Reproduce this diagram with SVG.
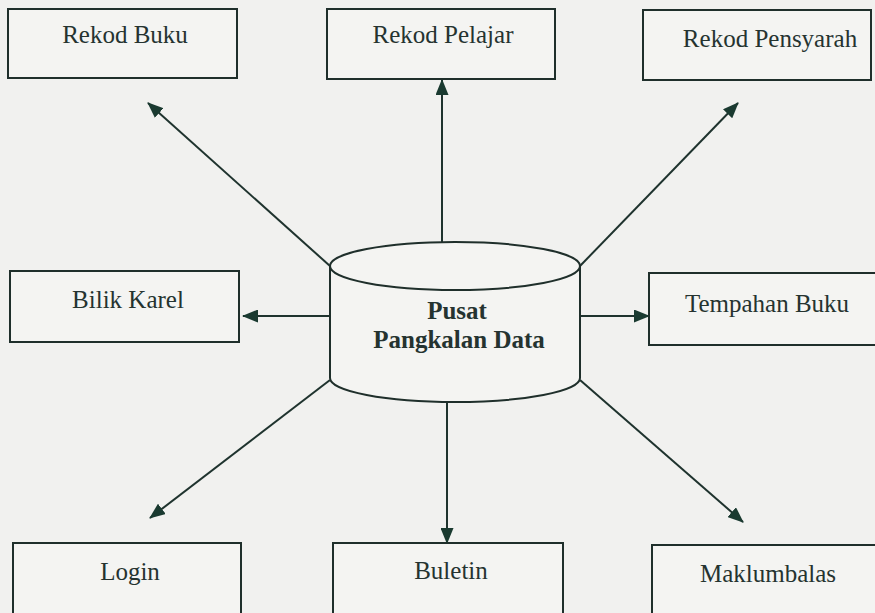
<svg xmlns="http://www.w3.org/2000/svg" width="875" height="613" viewBox="0 0 875 613">
<defs>
<style>
.box{fill:#f4f4f2;stroke:#1f2f2b;stroke-width:2}
.lbl{font-family:"Liberation Serif","Times New Roman",Times,"DejaVu Serif",serif;font-size:25px;fill:#253330;text-anchor:middle}
.bold{font-weight:bold}
.con{stroke:#1f332e;stroke-width:2;fill:none;marker-end:url(#ah)}
</style>
<marker id="ah" viewBox="0 0 16 13" refX="15" refY="6.5" markerWidth="16" markerHeight="13" markerUnits="userSpaceOnUse" orient="auto">
<path d="M0,0 L16,6.5 L0,13 z" fill="#1a3a30"/>
</marker>
</defs>
<rect width="875" height="613" fill="#f1f1ef"/>
<g id="connectors">
<line class="con" x1="330" y1="266" x2="148" y2="103"/>
<line class="con" x1="442" y1="242" x2="442" y2="80"/>
<line class="con" x1="580" y1="266" x2="738" y2="103"/>
<line class="con" x1="330" y1="316" x2="243" y2="316"/>
<line class="con" x1="580" y1="316" x2="649" y2="316"/>
<line class="con" x1="330" y1="380" x2="150" y2="518"/>
<line class="con" x1="447" y1="402" x2="447" y2="543"/>
<line class="con" x1="580" y1="380" x2="743" y2="522"/>
</g>
<g id="rekod-buku">
<rect class="box" x="8" y="9" width="229" height="69"/>
<text class="lbl" x="125" y="43" font-family="Liberation Serif, serif">Rekod Buku</text>
</g>
<g id="rekod-pelajar">
<rect class="box" x="327" y="9" width="228" height="70"/>
<text class="lbl" x="443" y="43" font-family="Liberation Serif, serif">Rekod Pelajar</text>
</g>
<g id="rekod-pensyarah">
<rect class="box" x="643" y="10" width="228" height="70"/>
<text class="lbl" x="770" y="47" font-family="Liberation Serif, serif">Rekod Pensyarah</text>
</g>
<g id="bilik-karel">
<rect class="box" x="10" y="271" width="229" height="71"/>
<text class="lbl" x="128" y="308" font-family="Liberation Serif, serif">Bilik Karel</text>
</g>
<g id="tempahan-buku">
<rect class="box" x="649" y="273" width="230" height="72"/>
<text class="lbl" x="767" y="312" font-family="Liberation Serif, serif">Tempahan Buku</text>
</g>
<g id="pusat-pangkalan-data">
<path d="M330,266 L330,378 A125,24 0 0 0 580,378 L580,266" fill="#f4f4f2" stroke="#1f2f2b" stroke-width="2"/>
<ellipse cx="455" cy="266" rx="125" ry="24" fill="#f4f4f2" stroke="#1f2f2b" stroke-width="2"/>
<text class="lbl bold" x="457" y="319" font-family="Liberation Serif, serif">Pusat</text>
<text class="lbl bold" x="459" y="348" font-family="Liberation Serif, serif">Pangkalan Data</text>
</g>
<g id="login">
<rect class="box" x="13" y="543" width="228" height="72"/>
<text class="lbl" x="130" y="580" font-family="Liberation Serif, serif">Login</text>
</g>
<g id="buletin">
<rect class="box" x="333" y="543" width="230" height="72"/>
<text class="lbl" x="451" y="579" font-family="Liberation Serif, serif">Buletin</text>
</g>
<g id="maklumbalas">
<rect class="box" x="652" y="545" width="228" height="72"/>
<text class="lbl" x="768" y="582" font-family="Liberation Serif, serif">Maklumbalas</text>
</g>
</svg>
